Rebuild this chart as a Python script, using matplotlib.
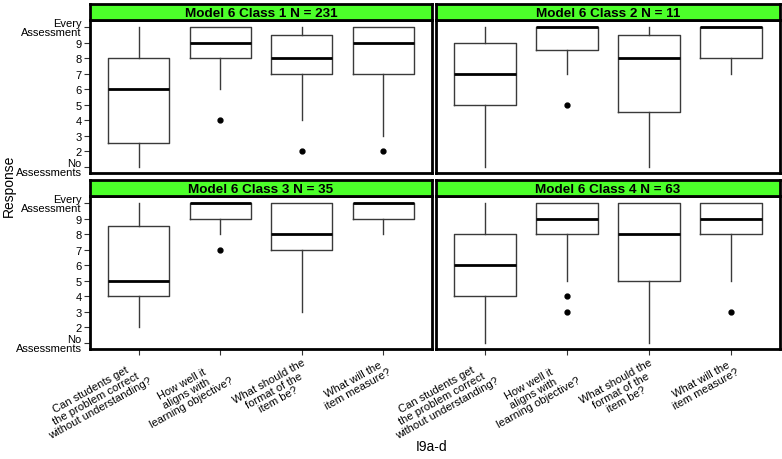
import matplotlib
matplotlib.use("Agg")
import matplotlib.pyplot as plt

plt.rcParams['font.family'] = ['Liberation Sans', 'DejaVu Sans']

panel_titles = ["Model 6 Class 1 N = 231", "Model 6 Class 2 N = 11",
                "Model 6 Class 3 N = 35", "Model 6 Class 4 N = 63"]
questions = ["Can students get\nthe problem correct\nwithout understanding?",
             "How well it\naligns with\nlearning objective?",
             "What should the\nformat of the\nitem be?",
             "What will the\nitem measure?"]
y_ticks = [1, 2, 3, 4, 5, 6, 7, 8, 9, 10]
y_ticklabels = ["No\nAssessments", "2", "3", "4", "5", "6", "7", "8", "9", "Every\nAssessment"]

# per panel, per question: whislo, q1, med, q3, whishi
class1_lo = [1, 6, 4, 3]
class1_q1 = [2.5, 8, 7, 7]
class1_med = [6, 9, 8, 9]
class1_q3 = [8, 10, 9.5, 10]
class1_hi = [10, 10, 10, 10]
class1_fl = [[], [4], [2], [2]]

class2_lo = [1, 7, 1, 7]
class2_q1 = [5, 8.5, 4.5, 8]
class2_med = [7, 10, 8, 10]
class2_q3 = [9, 10, 9.5, 10]
class2_hi = [10, 10, 10, 10]
class2_fl = [[], [5], [], []]

class3_lo = [2, 8, 3, 8]
class3_q1 = [4, 9, 7, 9]
class3_med = [5, 10, 8, 10]
class3_q3 = [8.5, 10, 10, 10]
class3_hi = [10, 10, 10, 10]
class3_fl = [[], [7], [], []]

class4_lo = [1, 5, 1, 5]
class4_q1 = [4, 8, 5, 8]
class4_med = [6, 9, 8, 9]
class4_q3 = [8, 10, 10, 10]
class4_hi = [10, 10, 10, 10]
class4_fl = [[], [4, 3], [], [3]]

panels = [
    (class1_lo, class1_q1, class1_med, class1_q3, class1_hi, class1_fl),
    (class2_lo, class2_q1, class2_med, class2_q3, class2_hi, class2_fl),
    (class3_lo, class3_q1, class3_med, class3_q3, class3_hi, class3_fl),
    (class4_lo, class4_q1, class4_med, class4_q3, class4_hi, class4_fl),
]

W, H = 782, 460
fig = plt.figure(figsize=(W / 100, H / 100), dpi=100)

# pixel layout for plot areas
xs = [(90, 432), (436, 780)]
ys = [(21, 174), (197, 350)]
strip_h = 16
green = '#4cff2a'

def px_axes(x0, y0, x1, y1):
    return fig.add_axes([x0 / W, 1 - y1 / H, (x1 - x0) / W, (y1 - y0) / H])

for i, (lo, q1, med, q3, hi, fl) in enumerate(panels):
    r, c = divmod(i, 2)
    x0, x1 = xs[c]
    y0, y1 = ys[r]
    ax = px_axes(x0, y0, x1, y1)
    stats = []
    for k in range(4):
        stats.append(dict(whislo=lo[k], q1=q1[k], med=med[k], q3=q3[k],
                          whishi=hi[k], fliers=fl[k], label=questions[k]))
    ax.bxp(stats, positions=[1, 2, 3, 4], widths=0.75, showcaps=False,
           boxprops=dict(color='#3a3a3a', linewidth=1.0),
           whiskerprops=dict(color='#3a3a3a', linewidth=1.0),
           medianprops=dict(color='black', linewidth=2.0),
           flierprops=dict(marker='o', markerfacecolor='black',
                           markeredgecolor='black', markersize=3.5))
    ax.set_xlim(0.4, 4.6)
    ax.set_ylim(0.6, 10.45)
    for s in ax.spines.values():
        s.set_linewidth(2.0)
        s.set_color('black')
    ax.tick_params(axis='both', direction='out', length=4, width=0.8,
                   colors='#333333', labelcolor='black', labelsize=8, pad=2)
    ax.set_yticks(y_ticks)
    if c == 0:
        ax.set_yticklabels(y_ticklabels, linespacing=0.9)
    else:
        ax.tick_params(axis='y', length=0, labelleft=False)
    if r == 1:
        ax.set_xticks([1, 2, 3, 4])
        ax.set_xticklabels(questions, rotation=29, ha='right', va='top',
                           rotation_mode='anchor', multialignment='center',
                           linespacing=1.05, fontsize=8)
        ax.tick_params(axis='x', pad=1.5)
    else:
        ax.set_xticks([])

    sax = px_axes(x0, y0 - strip_h, x1, y0)
    sax.set_facecolor(green)
    sax.set_xticks([])
    sax.set_yticks([])
    for s in sax.spines.values():
        s.set_linewidth(2.0)
        s.set_color('black')
    sax.text(0.5, 0.45, panel_titles[i], ha='center', va='center',
             fontsize=9.7, fontweight='bold', transform=sax.transAxes)

fig.text(9 / W, 1 - 186 / H, "Response", rotation=90, ha='center',
         va='center', fontsize=10)
fig.text(432 / W, 1 - 447 / H, "I9a-d", ha='center', va='center',
         fontsize=10)

fig.savefig("out.png", dpi=100)
